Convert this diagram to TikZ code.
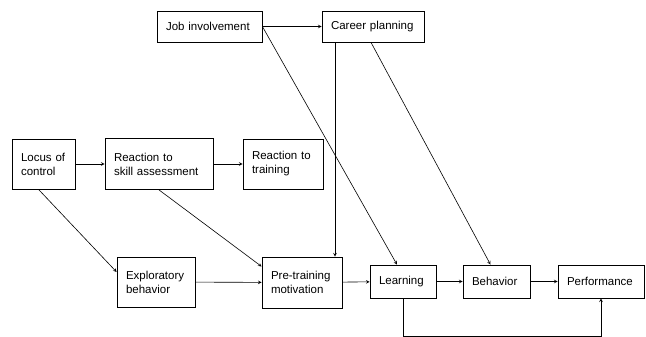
\documentclass[tikz,border=0pt]{standalone}
\usepackage{fontspec}
\setmainfont{Liberation Sans}
\usetikzlibrary{arrows}
\tikzset{
  box/.style={draw, line width=0.8pt, inner xsep=9pt, inner ysep=2pt, align=left, font=\fontsize{11.5}{14}\selectfont},
  link/.style={->, >=stealth, line width=0.6pt}
}
\begin{document}
\begin{tikzpicture}[x=1pt, y=-1pt]
\useasboundingbox (0,0) rectangle (646,337);
\node[box, text width=87pt, minimum height=31pt] (job) at (209.5,26.5){Job involvement};
\node[box, text width=84pt, minimum height=31pt] (career) at (373,26.5){Career planning};
\node[box, text width=45pt, minimum height=50pt] (locus) at (43.5,164){Locus of\\control};
\node[box, text width=90pt, minimum height=51pt] (skill) at (159,164){Reaction to\\skill assessment};
\node[box, text width=62pt, minimum height=50pt] (rtrain) at (283,164){Reaction to\\training};
\node[box, text width=60pt, minimum height=50pt] (explore) at (156,282){Exploratory\\behavior};
\node[box, text width=62pt, minimum height=51pt] (pretrain) at (302,282.5){Pre-training\\motivation};
\node[box, text width=48pt, minimum height=33pt] (learn) at (403,281.5){Learning};
\node[box, text width=49pt, minimum height=33pt] (behav) at (496.5,281.5){Behavior};
\node[box, text width=68pt, minimum height=33pt] (perf) at (601,281.5){Performance};
\draw[link](job) -- (career);
\draw[link](job.east) -- ([xshift=-6pt]learn.north);
\draw[link]([xshift=-38pt]career.south) -- ([xshift=-38pt]career.south |- pretrain.north);
\draw[link]([xshift=-2pt]career.south) -- ([xshift=-6pt]behav.north);
\draw[link](locus) -- (skill);
\draw[link](skill) -- (rtrain);
\draw[link]([xshift=-5pt]locus.south) -- ([yshift=10pt]explore.west);
\draw[link](skill.south) -- ([yshift=16pt]pretrain.west);
\draw[link](explore) -- (pretrain);
\draw[link](pretrain) -- (learn);
\draw[link](learn) -- (behav);
\draw[link](behav) -- (perf);
\draw[link](learn.south) -- ++(0pt,-38pt) -| (perf.south);

\end{tikzpicture}
\end{document}
